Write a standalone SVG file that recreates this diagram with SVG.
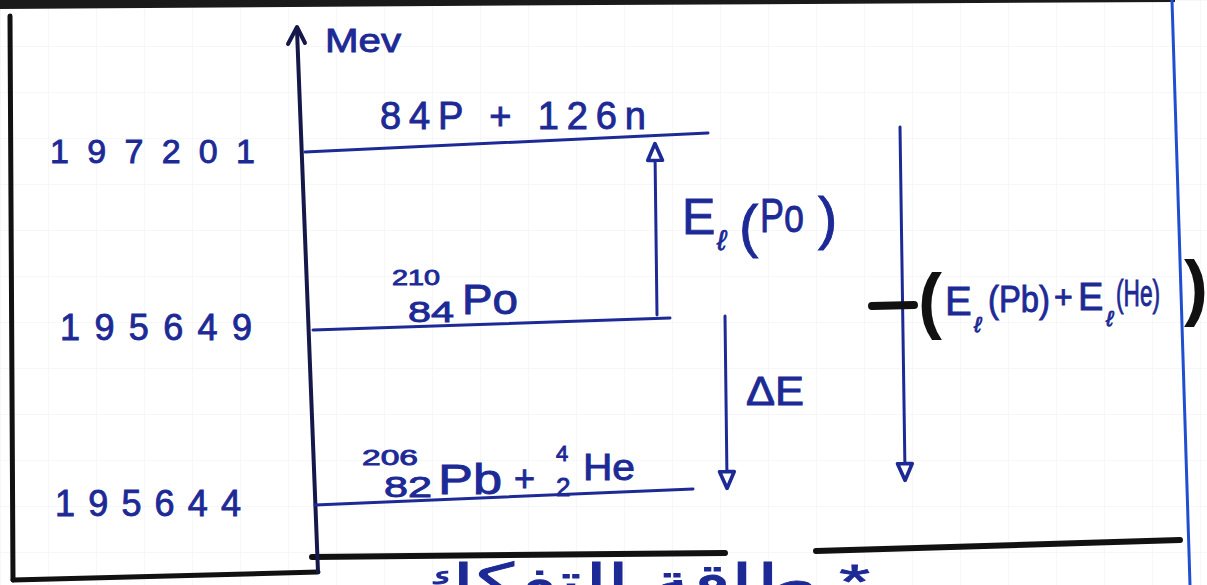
<svg xmlns="http://www.w3.org/2000/svg" width="1207" height="585" viewBox="0 0 1207 585">
  <style>
    .ink { fill: #1d2a96; font-family: "Liberation Sans", "DejaVu Sans", sans-serif; stroke: #1d2a96; stroke-width: 0.9; }
    .blk { fill: #111; font-family: "Liberation Sans", "DejaVu Sans", sans-serif; }
    .lvl { stroke: #1d2a96; stroke-width: 3; fill: none; stroke-linecap: round; }
    .arr { stroke: #1d2a96; stroke-width: 3; fill: none; stroke-linecap: round; }
    .frame { stroke: #111; fill: none; stroke-linecap: round; }
    .grid { stroke: #efefef; stroke-width: 1; }
  </style>
  <defs>
    <marker id="openHead" viewBox="0 0 20 20" refX="10" refY="10" markerWidth="7" markerHeight="7" orient="auto" markerUnits="strokeWidth">
      <path d="M2,3 L18,10 L2,17 Z" fill="#fff" stroke="#1d2a96" stroke-width="3.5" stroke-linejoin="round"/>
    </marker>
    <pattern id="paper" width="48" height="46" patternUnits="userSpaceOnUse">
      <line x1="0" y1="0" x2="0" y2="46" class="grid"/>
      <line x1="0" y1="0" x2="48" y2="0" class="grid"/>
    </pattern>
  </defs>

  <rect width="1207" height="585" fill="#fff"/>
  <rect width="1207" height="585" fill="url(#paper)"/>

  <!-- frame of the page -->
  <g id="frame">
    <polygon points="0,0 1175,0 1175,2 600,5 0,9" fill="#1a1a1a"/>
    <line class="frame" x1="10" y1="16" x2="13" y2="580" stroke-width="5"/>
    <line class="frame" x1="13" y1="580" x2="318" y2="572" stroke-width="5"/>
    <line x1="1172" y1="0" x2="1190" y2="585" stroke="#1f4fd0" stroke-width="3"/>
    <line class="frame" x1="312" y1="557" x2="725" y2="553" stroke-width="6"/>
    <line class="frame" x1="816" y1="551" x2="1180" y2="540" stroke-width="6"/>
  </g>

  <!-- energy axis -->
  <g id="axis">
    <line x1="297" y1="30" x2="318" y2="572" stroke="#16184a" stroke-width="4" stroke-linecap="round"/>
    <path d="M288,44 L297,27 L305,43" fill="none" stroke="#16184a" stroke-width="4" stroke-linecap="round" stroke-linejoin="round"/>
    <text class="ink" x="325" y="52" font-size="34" textLength="76" lengthAdjust="spacingAndGlyphs">Mev</text>
  </g>

  <!-- level: 84 p + 126 n -->
  <g id="level-nucleons">
    <line class="lvl" x1="305" y1="152" x2="708" y2="133"/>
    <text class="ink" x="380" y="129" font-size="38" textLength="266" lengthAdjust="spacing">84P + 126n</text>
    <text class="ink" x="50" y="163" font-size="34" textLength="205" lengthAdjust="spacing">197201</text>
  </g>

  <!-- level: Po-210 -->
  <g id="level-po">
    <line class="lvl" x1="313" y1="330" x2="670" y2="318"/>
    <text class="ink" x="392" y="285" font-size="22" textLength="48" lengthAdjust="spacingAndGlyphs">210</text>
    <text class="ink" x="408" y="322" font-size="30" textLength="46" lengthAdjust="spacingAndGlyphs">84</text>
    <text class="ink" x="462" y="314" font-size="42" textLength="56" lengthAdjust="spacingAndGlyphs">Po</text>
    <text class="ink" x="60" y="340" font-size="36" textLength="192" lengthAdjust="spacing">195649</text>
  </g>

  <!-- level: Pb-206 + He-4 -->
  <g id="level-pb-he">
    <line class="lvl" x1="315" y1="505" x2="693" y2="489"/>
    <text class="ink" x="362" y="465" font-size="22" textLength="56" lengthAdjust="spacingAndGlyphs">206</text>
    <text class="ink" x="384" y="497" font-size="30" textLength="48" lengthAdjust="spacingAndGlyphs">82</text>
    <text class="ink" x="438" y="494" font-size="42" textLength="64" lengthAdjust="spacingAndGlyphs">Pb</text>
    <text class="ink" x="514" y="491" font-size="36">+</text>
    <text class="ink" x="556" y="461" font-size="22">4</text>
    <text class="ink" x="556" y="496" font-size="26">2</text>
    <text class="ink" x="583" y="480" font-size="36" textLength="52" lengthAdjust="spacingAndGlyphs">He</text>
    <text class="ink" x="55" y="516" font-size="36" textLength="186" lengthAdjust="spacing">195644</text>
  </g>

  <!-- connectors -->
  <g id="connectors">
    <line class="arr" x1="657" y1="315" x2="655" y2="152" marker-end="url(#openHead)"/>
    <line class="arr" x1="725" y1="316" x2="727" y2="480" marker-end="url(#openHead)"/>
    <line class="arr" x1="900" y1="127" x2="905" y2="472" marker-end="url(#openHead)"/>
  </g>

  <!-- label: binding energy of Po -->
  <g id="label-el-po">
    <text class="ink" x="682" y="234" font-size="50">E</text>
    <text class="ink" x="717" y="250" font-size="28" font-style="italic">ℓ</text>
    <text class="ink" x="739" y="246" font-size="58">(</text>
    <text class="ink" x="760" y="232" font-size="48" textLength="44" lengthAdjust="spacingAndGlyphs">Po</text>
    <text class="ink" x="818" y="238" font-size="58">)</text>
  </g>

  <!-- label: delta E -->
  <g id="label-delta-e">
    <text class="ink" x="746" y="405" font-size="40" textLength="58" lengthAdjust="spacingAndGlyphs">ΔE</text>
  </g>

  <!-- label: -(El(Pb) + El(He)) -->
  <g id="label-sum">
    <line x1="872" y1="306" x2="914" y2="305" stroke="#111" stroke-width="8" stroke-linecap="round"/>
    <text class="blk" x="918" y="325" font-size="72" font-weight="bold">(</text>
    <text class="ink" x="945" y="315" font-size="40">E</text>
    <text class="ink" x="974" y="332" font-size="22" font-style="italic">ℓ</text>
    <text class="ink" x="988" y="312" font-size="36" textLength="62" lengthAdjust="spacingAndGlyphs">(Pb)</text>
    <text class="ink" x="1054" y="308" font-size="32">+</text>
    <text class="ink" x="1078" y="310" font-size="38">E</text>
    <text class="ink" x="1106" y="326" font-size="22" font-style="italic">ℓ</text>
    <text class="ink" x="1116" y="306" font-size="36" textLength="44" lengthAdjust="spacingAndGlyphs">(He)</text>
    <text class="blk" x="1184" y="312" font-size="72" font-weight="bold">)</text>
  </g>

  <!-- cut-off caption at the bottom -->
  <g id="caption">
    <text class="ink" x="870" y="598" font-size="48" direction="rtl" unicode-bidi="embed" text-anchor="start" textLength="460" lengthAdjust="spacingAndGlyphs">* طاقة التفكك</text>
  </g>
</svg>
